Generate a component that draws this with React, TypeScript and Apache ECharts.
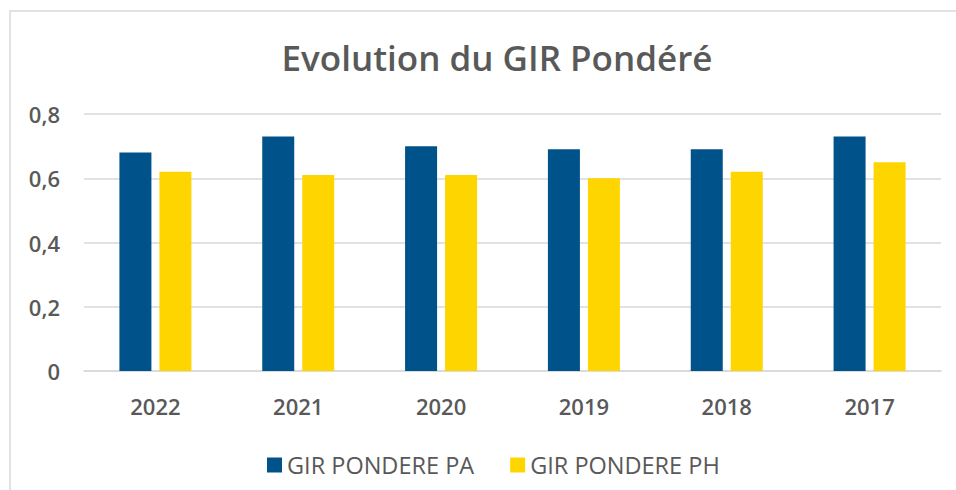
import React, { useEffect, useRef } from "react";
import * as echarts from "echarts";

const categories = ["2022", "2021", "2020", "2019", "2018", "2017"];
const seriesPA = [0.68, 0.73, 0.7, 0.69, 0.69, 0.73];
const seriesPH = [0.62, 0.61, 0.61, 0.6, 0.62, 0.65];
const yTicks = { min: 0, max: 0.8, interval: 0.2 };

const FONT = "'Open Sans', 'Noto Sans', sans-serif";
const TEXT = "#595959";

export default function App() {
  const ref = useRef<HTMLDivElement>(null);
  useEffect(() => {
    document.body.style.margin = "0";
    const chart = echarts.init(ref.current!, undefined, { renderer: "svg" });
    chart.setOption({
      animation: false,
      backgroundColor: "#ffffff",
      title: {
        text: "Evolution du GIR Pondéré",
        left: 492,
        textAlign: "center",
        top: 35,
        textStyle: { fontFamily: FONT, fontSize: 35, fontWeight: 600, color: TEXT },
      },
      graphic: [
        {
          type: "rect",
          shape: { x: 10, y: 11, width: 980, height: 520 },
          style: { fill: "none", stroke: "#d9d9d9", lineWidth: 1.5 },
          silent: true,
        },
      ],
      legend: {
        top: 448,
        left: 262,
        itemWidth: 15,
        itemHeight: 15,
        itemGap: 36,
        icon: "rect",
        textStyle: { fontFamily: FONT, fontSize: 23.5, fontWeight: 500, color: TEXT },
        data: ["GIR PONDERE PA", "GIR PONDERE PH"],
      },
      grid: { left: 84, right: 15, top: 114, bottom: 119, containLabel: false },
      xAxis: {
        type: "category",
        data: categories,
        axisTick: { show: false },
        axisLine: { lineStyle: { color: "#d9d9d9", width: 1.5 } },
        axisLabel: { fontFamily: FONT, fontSize: 22, fontWeight: 600, color: TEXT, margin: 24 },
      },
      yAxis: {
        type: "value",
        min: yTicks.min,
        max: yTicks.max,
        interval: yTicks.interval,
        axisLine: { show: false },
        axisTick: { show: false },
        splitLine: { lineStyle: { color: "#d9d9d9", width: 1.5 } },
        axisLabel: {
          fontFamily: FONT,
          fontSize: 22,
          fontWeight: 600,
          color: TEXT,
          margin: 24,
          formatter: (v: number) => (v === 0 ? "0" : v.toFixed(1).replace(".", ",")),
        },
      },
      series: [
        {
          name: "GIR PONDERE PA",
          type: "bar",
          data: seriesPA,
          barWidth: 32,
          barGap: "25%",
          itemStyle: { color: "#00528a" },
        },
        {
          name: "GIR PONDERE PH",
          type: "bar",
          data: seriesPH,
          barWidth: 32,
          itemStyle: { color: "#ffd500" },
        },
      ],
    });
    return () => chart.dispose();
  }, []);
  return <div ref={ref} style={{ width: 956, height: 490, position: "absolute", left: 0, top: 0 }} />;
}
